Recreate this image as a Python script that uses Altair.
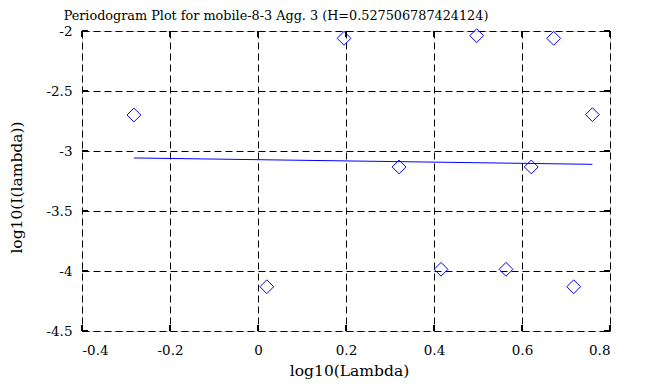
import altair as alt
import pandas as pd

# Data
log_lambda = [-0.282, 0.020, 0.1955, 0.3205, 0.416, 0.497, 0.5636, 0.621, 0.672, 0.7175, 0.760]
log_I = [-2.700, -4.131, -2.061, -3.133, -3.986, -2.039, -3.986, -3.133, -2.061, -4.131, -2.697]

fit_x = [-0.282, 0.760]
fit_y = [-3.058, -3.111]

x_ticks = [-0.4, -0.2, 0.0, 0.2, 0.4, 0.6, 0.8]
y_ticks = [-2.0, -2.5, -3.0, -3.5, -4.0, -4.5]

title_text = "Periodogram Plot for mobile-8-3 Agg. 3 (H=0.527506787424124)"

FONT = "DejaVu Serif"
W, H = 528, 300
TL = 6  # tick length (inward)

pts = pd.DataFrame({"x": log_lambda, "y": log_I})
fit = pd.DataFrame({"x": fit_x, "y": fit_y})
xt = pd.DataFrame({"v": x_ticks})
yt = pd.DataFrame({"v": y_ticks})

xscale = alt.Scale(domain=[-0.4, 0.8], nice=False, zero=False)
yscale = alt.Scale(domain=[-4.5, -2.0], nice=False, zero=False)

xaxis = alt.Axis(
    values=x_ticks, labelExpr="toString(datum.value)", title="log10(Lambda)",
    grid=True, gridColor="black", gridDash=[7, 4], gridWidth=1, gridOpacity=1,
    ticks=False, tickSize=0, domain=False, labelPadding=12,
    labelFont=FONT, labelFontSize=13.5, labelColor="black",
    titleFont=FONT, titleFontSize=15.5, titleFontWeight="normal", titleColor="black",
    titleBaseline="alphabetic", titleY=44, titleX=267,
)
yaxis = alt.Axis(
    values=y_ticks, labelExpr="toString(datum.value)", title="log10(I(lambda))",
    grid=True, gridColor="black", gridDash=[7, 4], gridWidth=1, gridOpacity=1,
    ticks=False, tickSize=0, domain=False, labelPadding=10,
    labelFont=FONT, labelFontSize=13.5, labelColor="black",
    titleFont=FONT, titleFontSize=15.5, titleFontWeight="normal", titleColor="black",
    titleAngle=270, titleBaseline="alphabetic", titleX=-61, titleY=156,
)

base_pts = alt.Chart(pts).mark_point(
    shape="diamond", filled=False, color="#0000ff", size=190, strokeWidth=1, opacity=1
).encode(
    x=alt.X("x:Q", scale=xscale, axis=xaxis),
    y=alt.Y("y:Q", scale=yscale, axis=yaxis),
)

line = alt.Chart(fit).mark_line(color="#0000ff", strokeWidth=1).encode(
    x=alt.X("x:Q", scale=xscale),
    y=alt.Y("y:Q", scale=yscale),
)

tick_style = dict(color="black", strokeWidth=2)
bottom_t = alt.Chart(xt).mark_rule(**tick_style).encode(
    x=alt.X("v:Q", scale=xscale), y=alt.value(H), y2=alt.value(H - TL))
top_t = alt.Chart(xt).mark_rule(**tick_style).encode(
    x=alt.X("v:Q", scale=xscale), y=alt.value(0), y2=alt.value(TL))
left_t = alt.Chart(yt).mark_rule(**tick_style).encode(
    y=alt.Y("v:Q", scale=yscale), x=alt.value(0), x2=alt.value(TL))
right_t = alt.Chart(yt).mark_rule(**tick_style).encode(
    y=alt.Y("v:Q", scale=yscale), x=alt.value(W), x2=alt.value(W - TL))

chart = alt.layer(base_pts, line, bottom_t, top_t, left_t, right_t).properties(
    width=W, height=H,
    title=alt.TitleParams(
        text=title_text, anchor="middle", frame="group", dx=-70, dy=11,
        font=FONT, fontSize=12.8, fontWeight="normal", color="black",
        baseline="alphabetic", offset=2,
    ),
    autosize=alt.AutoSizeParams(type="none"),
    padding={"left": 74, "top": 23, "right": 35, "bottom": 48},
).configure_view(stroke="black", strokeWidth=2).configure(background="white")

chart.save("out.html", embed_options={"renderer": "svg", "actions": False})
